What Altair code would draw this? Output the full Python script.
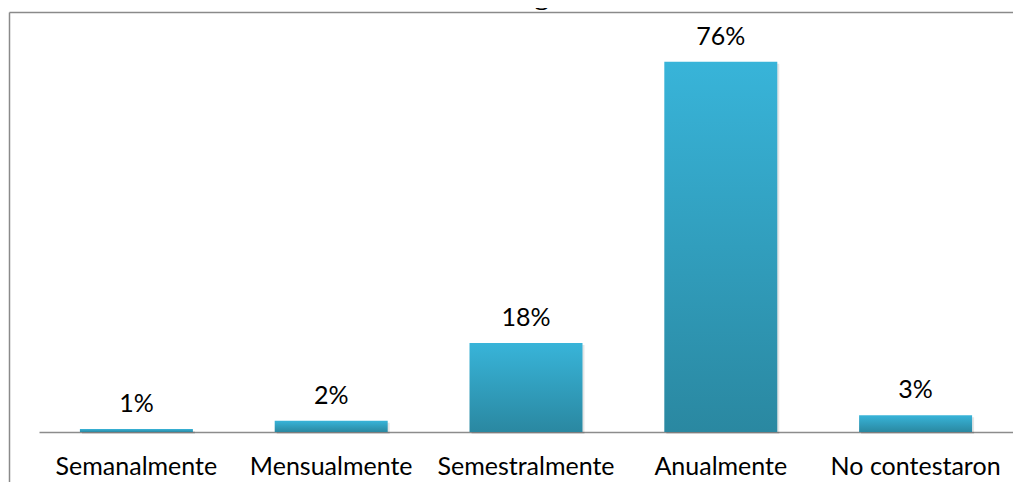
import altair as alt
import pandas as pd

categories = ["Semanalmente", "Mensualmente", "Semestralmente", "Anualmente", "No contestaron"]
values = [0.6, 2.3, 18.2, 75.6, 3.4]
value_labels = ["1%", "2%", "18%", "76%", "3%"]
title_text = "GRÁFICO 15: Brigadas Médicas"

df = pd.DataFrame({"cat": categories, "val": values, "lab": value_labels})

FONT = "Lato"
FS = 25

xenc = alt.X(
    "cat:N",
    sort=categories,
    scale=alt.Scale(paddingInner=0.42, paddingOuter=0.21),
    axis=alt.Axis(title=None, labels=False, ticks=False, domain=True,
                  domainColor="#8c8c8c", domainWidth=1.5, grid=False),
)
yenc = alt.Y("val:Q", scale=alt.Scale(domain=[0, 86.6]), axis=None)

base = alt.Chart(df)

shadow = base.mark_bar(color="#000000", opacity=0.10, xOffset=2, yOffset=2).encode(x=xenc, y=yenc)

bars = base.mark_bar(
    color=alt.Gradient(
        gradient="linear",
        stops=[alt.GradientStop(color="#38B4D9", offset=0),
               alt.GradientStop(color="#2A88A1", offset=1)],
        x1=0, x2=0, y1=0, y2=1,
    )
).encode(x=xenc, y=yenc)

vlabels = base.mark_text(dy=-17, baseline="alphabetic", font=FONT, fontSize=FS, color="#000000").encode(
    x=xenc, y=yenc, text="lab:N"
)

clabels = base.mark_text(baseline="alphabetic", font=FONT, fontSize=FS, color="#000000").encode(
    x=xenc, y=alt.value(467), text="cat:N"
)

one = alt.Chart(pd.DataFrame({"t": [title_text]}))
title = one.mark_text(baseline="alphabetic", font="Liberation Serif", fontSize=28, fontWeight="bold",
                      color="#000000").encode(x=alt.value(472), y=alt.value(-4), text="t:N")

left_border = one.mark_rule(color="#8a8a8a", strokeWidth=1.5).encode(
    x=alt.value(-29.5), y=alt.value(4.5), y2=alt.value(700)
)
top_border = one.mark_rule(color="#8a8a8a", strokeWidth=1.5).encode(
    x=alt.value(-29.5), x2=alt.value(1200), y=alt.value(4.5)
)

chart = alt.layer(shadow, bars, vlabels, clabels, title, left_border, top_border).properties(
    width=974,
    height=424,
    padding={"left": 31, "top": 0, "right": 0, "bottom": 50},
    autosize=alt.AutoSizeParams(type="none"),
).configure_view(stroke=None)

chart.save("out.html", embed_options={"renderer": "svg", "actions": False})
